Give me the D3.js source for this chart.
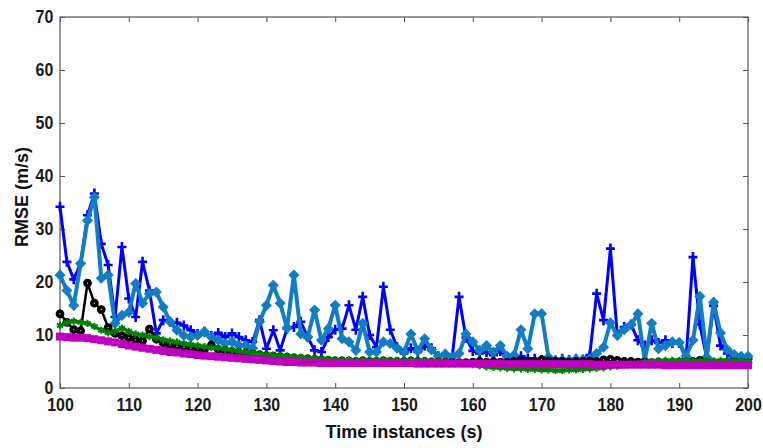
<!DOCTYPE html>
<html>
<head>
<meta charset="utf-8">
<script src="https://cdn.jsdelivr.net/npm/d3@7"></script>
<style>
  body { margin: 0; background: #fff; }
  svg { display: block; }
  .tick text { font-family: "Liberation Sans", Arial, sans-serif; font-weight: bold; font-size: 19px; fill: #1a1a1a; }
</style>
</head>
<body>
<div id="chart-area"></div>
<script>
// time axis (seconds)
const time = d3.range(100, 201);

// RMSE values, one per second from 100 to 200
const rmseBlue = [
  34.2, 23.8, 20.5, 23.5, 32.6, 36.7, 27.2, 23.2, 13.4, 26.6,
  16.9, 13.4, 23.8, 18.4, 10.3, 12.8, 12.5, 12.3, 11.8, 10.9,
  10.2, 10.6, 9.8, 10.4, 9.6, 10.3, 9.6, 9.0, 8.7, 12.8,
  7.4, 10.9, 7.1, 11.2, 11.5, 12.5, 9.6, 7.1, 6.8, 9.6,
  11.0, 11.2, 15.6, 11.0, 17.2, 10.0, 7.7, 19.1, 11.0, 7.7,
  6.5, 7.5, 6.8, 8.0, 7.5, 6.0, 6.3, 5.8, 17.2, 9.5,
  7.0, 6.5, 6.8, 6.2, 7.0, 5.8, 5.7, 6.0, 5.5, 5.5,
  5.3, 5.5, 5.2, 5.5, 5.3, 5.5, 5.4, 6.2, 17.8, 12.8,
  26.3, 10.0, 11.5, 12.0, 9.0, 8.0, 9.0, 8.5, 9.0, 8.5,
  8.5, 5.5, 24.7, 12.0, 5.6, 15.5, 8.0, 6.5, 5.5, 5.8,
  5.5
];
const rmseLightBlue = [
  21.3, 18.4, 15.6, 23.5, 31.6, 36.0, 20.7, 21.3, 12.2, 13.7,
  14.3, 19.7, 16.0, 17.8, 18.1, 15.3, 12.5, 10.9, 9.9, 9.6,
  9.9, 10.6, 9.6, 9.0, 8.4, 8.7, 8.0, 8.0, 7.5, 12.5,
  15.6, 19.4, 16.0, 11.3, 21.3, 10.2, 9.6, 14.7, 9.0, 11.2,
  15.6, 9.3, 8.7, 7.1, 12.2, 6.8, 6.8, 8.7, 8.4, 7.5,
  6.8, 10.2, 7.0, 9.3, 7.2, 6.0, 6.4, 5.9, 6.5, 10.2,
  8.7, 7.1, 8.0, 6.8, 8.0, 6.0, 6.2, 11.0, 7.4, 14.0,
  14.0, 5.8, 5.2, 5.3, 5.2, 5.4, 5.3, 5.5, 6.5, 7.7,
  12.3, 9.9, 11.0, 11.9, 14.0, 5.2, 12.2, 7.4, 8.0, 8.7,
  8.6, 6.0, 9.0, 17.3, 5.8, 16.2, 10.4, 7.2, 6.3, 6.0,
  6.0
];
const rmseBlack = [
  14.0, 12.4, 11.0, 10.8, 19.8, 16.0, 14.8, 11.4, 10.3, 9.9,
  9.5, 9.1, 8.9, 11.1, 9.2, 8.5, 8.1, 7.9, 7.7, 7.5,
  7.4, 7.3, 8.1, 7.3, 7.1, 6.9, 6.7, 6.6, 6.4, 6.3,
  6.1, 6.0, 5.9, 5.8, 5.7, 5.6, 5.5, 5.4, 5.3, 5.2,
  5.1, 5.1, 5.1, 5.0, 5.1, 5.0, 5.0, 5.1, 5.0, 5.0,
  5.0, 5.1, 5.0, 5.0, 4.9, 4.9, 4.9, 4.8, 4.8, 4.8,
  4.9, 5.0, 4.9, 5.0, 4.9, 4.9, 5.0, 5.1, 5.0, 5.0,
  5.3, 5.1, 5.0, 5.0, 4.9, 5.0, 5.0, 5.1, 5.0, 5.3,
  5.4, 5.2, 5.0, 5.0, 4.9, 4.9, 4.8, 4.9, 4.8, 4.8,
  4.9, 4.8, 5.0, 5.2, 4.8, 4.8, 4.7, 4.8, 4.8, 4.7,
  4.7
];
const rmseGreen = [
  11.8, 12.3, 12.6, 12.4, 12.2, 11.6, 10.9, 10.4, 10.7, 11.3,
  10.7, 10.2, 10.0, 9.7, 9.5, 9.1, 8.9, 8.7, 8.4, 8.2,
  8.0, 7.8, 7.6, 7.5, 7.3, 7.1, 6.9, 6.8, 6.6, 6.5,
  6.3, 6.2, 6.1, 6.0, 5.9, 5.8, 5.7, 5.6, 5.5, 5.4,
  5.3, 5.3, 5.3, 5.2, 5.3, 5.2, 5.2, 5.3, 5.2, 5.2,
  5.2, 5.3, 5.2, 5.2, 5.1, 5.1, 5.0, 4.9, 4.8, 4.6,
  4.4, 4.2, 4.0, 3.9, 3.8, 3.7, 3.6, 3.6, 3.5, 3.5,
  3.4, 3.4, 3.3, 3.3, 3.4, 3.4, 3.5, 3.6, 3.7, 3.8,
  4.0, 4.1, 4.3, 4.5, 4.7, 4.9, 5.0, 5.1, 5.2, 5.2,
  5.2, 5.1, 5.1, 5.1, 5.1, 5.1, 5.2, 5.2, 5.1, 5.1,
  5.0
];
const rmseMagenta = [
  9.7, 9.6, 9.5, 9.5, 9.4, 9.2, 9.0, 8.8, 8.6, 8.3,
  8.0, 7.8, 7.6, 7.4, 7.2, 7.0, 6.8, 6.7, 6.5, 6.4,
  6.2, 6.1, 6.0, 5.9, 5.8, 5.7, 5.6, 5.5, 5.4, 5.3,
  5.2, 5.1, 5.0, 4.9, 4.9, 4.8, 4.8, 4.8, 4.7, 4.7,
  4.7, 4.7, 4.7, 4.7, 4.7, 4.7, 4.7, 4.7, 4.7, 4.7,
  4.7, 4.7, 4.6, 4.6, 4.6, 4.6, 4.6, 4.6, 4.6, 4.6,
  4.6, 4.6, 4.6, 4.6, 4.6, 4.5, 4.5, 4.5, 4.5, 4.5,
  4.5, 4.5, 4.5, 4.5, 4.5, 4.5, 4.5, 4.5, 4.4, 4.4,
  4.4, 4.4, 4.4, 4.4, 4.4, 4.4, 4.4, 4.4, 4.3, 4.3,
  4.3, 4.3, 4.3, 4.3, 4.3, 4.3, 4.3, 4.3, 4.3, 4.3,
  4.3
];

const xTicks = [100, 110, 120, 130, 140, 150, 160, 170, 180, 190, 200];
const yTicks = [0, 10, 20, 30, 40, 50, 60, 70];

/* dimensions */
const svgW = 763, svgH = 448;
const margin = { top: 17, right: 15, bottom: 60, left: 60 };
const width = svgW - margin.left - margin.right,
      height = svgH - margin.top - margin.bottom;

const svg = d3.select("#chart-area").append("svg")
    .attr("width", svgW)
    .attr("height", svgH);

const g = svg.append("g")
    .attr("transform", "translate(" + margin.left + "," + margin.top + ")");

const x = d3.scaleLinear().domain([100, 200]).range([0, width]);
const y = d3.scaleLinear().domain([0, 70]).range([height, 0]);

/* axes, ticks pointing inward */
const squeeze = "scale(0.84,1)";

g.append("g")
    .attr("transform", "translate(0," + height + ")")
    .call(d3.axisBottom(x).tickValues(xTicks).tickSizeInner(-5).tickSizeOuter(0).tickPadding(10))
    .call(a => a.select(".domain").remove())
    .call(a => a.selectAll("line").attr("stroke", "#555"))
    .call(a => a.selectAll("text").attr("transform", squeeze));

g.append("g")
    .call(d3.axisLeft(y).tickValues(yTicks).tickSizeInner(-5).tickSizeOuter(0).tickPadding(8))
    .call(a => a.select(".domain").remove())
    .call(a => a.selectAll("line").attr("stroke", "#555"))
    .call(a => a.selectAll("text").attr("transform", squeeze).attr("dy", "0.28em"));

g.append("g")
    .call(d3.axisTop(x).tickValues(xTicks).tickSizeInner(-5).tickSizeOuter(0).tickFormat(""))
    .call(a => a.select(".domain").remove())
    .call(a => a.selectAll("line").attr("stroke", "#555"));

g.append("g")
    .attr("transform", "translate(" + width + ",0)")
    .call(d3.axisRight(y).tickValues(yTicks).tickSizeInner(-5).tickSizeOuter(0).tickFormat(""))
    .call(a => a.select(".domain").remove())
    .call(a => a.selectAll("line").attr("stroke", "#555"));

// box
g.append("rect")
    .attr("width", width)
    .attr("height", height)
    .attr("fill", "none")
    .attr("stroke", "#555")
    .attr("stroke-width", 1.2);

// axis titles
svg.append("text")
    .attr("x", margin.left + width / 2)
    .attr("y", 438)
    .attr("text-anchor", "middle")
    .attr("textLength", 157)
    .attr("lengthAdjust", "spacingAndGlyphs")
    .style("font-family", "Liberation Sans, Arial, sans-serif")
    .style("font-weight", "bold")
    .style("font-size", "19px")
    .attr("fill", "#111")
    .text("Time instances (s)");

svg.append("text")
    .attr("transform", "translate(28,197) rotate(-90)")
    .attr("text-anchor", "middle")
    .attr("textLength", 100)
    .attr("lengthAdjust", "spacingAndGlyphs")
    .style("font-family", "Liberation Sans, Arial, sans-serif")
    .style("font-weight", "bold")
    .style("font-size", "18px")
    .attr("fill", "#111")
    .text("RMSE (m/s)");

/* series */
const series = [
  { name: "blue",      values: rmseBlue,      color: "#0000ff", lw: 3,   marker: "plus" },
  { name: "lightblue", values: rmseLightBlue, color: "#127dc2", lw: 4,   marker: "diamond" },
  { name: "black",     values: rmseBlack,     color: "#000000", lw: 2.5, marker: "circle" },
  { name: "green",     values: rmseGreen,     color: "#008000", lw: 3.5, marker: "star" },
  { name: "magenta",   values: rmseMagenta,   color: "#bf00bf", lw: 5,   marker: "square" }
];

const line = d3.line()
    .x(d => x(d[0]))
    .y(d => y(d[1]));

series.forEach(s => {
  const pts = time.map((t, i) => [t, s.values[i]]);
  const sg = g.append("g").attr("class", s.name);

  sg.append("path")
      .datum(pts)
      .attr("fill", "none")
      .attr("stroke", s.color)
      .attr("stroke-width", s.lw)
      .attr("stroke-linejoin", "round")
      .attr("d", line);

  const m = sg.selectAll(".m")
      .data(pts)
      .enter();

  if (s.marker === "plus") {
    m.append("path")
        .attr("d", "M-4.5,0H4.5M0,-5V5")
        .attr("transform", d => "translate(" + x(d[0]) + "," + y(d[1]) + ")")
        .attr("stroke", s.color)
        .attr("stroke-width", 2.6)
        .attr("fill", "none");
  } else if (s.marker === "diamond") {
    m.append("path")
        .attr("d", "M0,-4.5L4.5,0L0,4.5L-4.5,0Z")
        .attr("transform", d => "translate(" + x(d[0]) + "," + y(d[1]) + ")")
        .attr("fill", s.color)
        .attr("stroke", s.color)
        .attr("stroke-width", 1.5);
  } else if (s.marker === "circle") {
    m.append("circle")
        .attr("cx", d => x(d[0]))
        .attr("cy", d => y(d[1]))
        .attr("r", 2.5)
        .attr("fill", "#fff")
        .attr("stroke", s.color)
        .attr("stroke-width", 3.8);
  } else if (s.marker === "star") {
    m.append("path")
        .attr("d", d3.symbol(d3.symbolAsterisk, 36))
        .attr("transform", d => "translate(" + x(d[0]) + "," + y(d[1]) + ")")
        .attr("stroke", s.color)
        .attr("stroke-width", 2)
        .attr("fill", "none");
  } else if (s.marker === "square") {
    m.append("rect")
        .attr("x", d => x(d[0]) - 4)
        .attr("y", d => y(d[1]) - 4)
        .attr("width", 8)
        .attr("height", 8)
        .attr("fill", s.color);
  }
});
</script>
</body>
</html>
